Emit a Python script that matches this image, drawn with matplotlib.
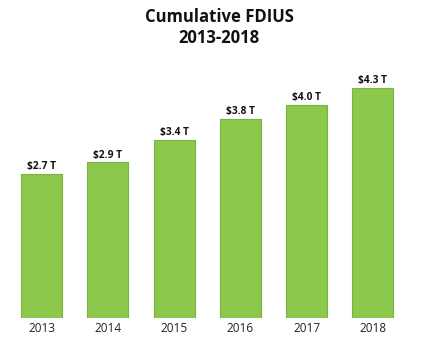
import matplotlib.pyplot as plt
import numpy as np

plt.rcParams['font.family'] = ['Open Sans', 'DejaVu Sans']

years = ['2013', '2014', '2015', '2016', '2017', '2018']
values = [2.69, 2.91, 3.33, 3.72, 3.98, 4.30]
labels = ['$2.7 T', '$2.9 T', '$3.4 T', '$3.8 T', '$4.0 T', '$4.3 T']

fig = plt.figure(figsize=(4.39, 3.51), dpi=100)
ax = fig.add_axes([8.5 / 439, 1 - 318 / 351, 397.5 / 439, 267.5 / 351])

x = np.arange(len(years))
bars = ax.bar(x, values, width=0.62, color='#8bc84c', edgecolor='#78b43e', linewidth=0.8)

for b, lab in zip(bars, labels):
    ax.text(b.get_x() + b.get_width() / 2, b.get_height() + 0.03, lab,
            ha='center', va='bottom', fontsize=7.3, fontweight='bold', color='#111111')

ax.set_xlim(-0.5, 5.5)
ax.set_ylim(0, 5)
ax.set_xticks(x)
ax.set_xticklabels(years, fontsize=8.5, color='#222222')
ax.tick_params(axis='x', length=0, pad=3)
ax.set_yticks([])
for s in ax.spines.values():
    s.set_visible(False)

fig.text(0.5, 1 - 27.5 / 351, 'Cumulative FDIUS\n2013-2018', ha='center', va='center',
         fontsize=12, fontweight='bold', color='#111111', linespacing=1.15)

fig.savefig('out.png', dpi=100)
